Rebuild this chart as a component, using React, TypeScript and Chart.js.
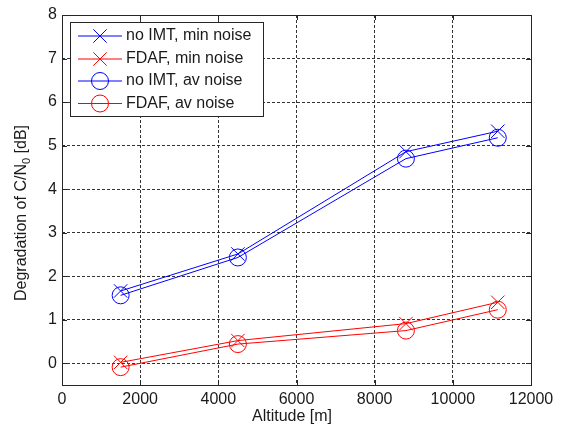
import React, { useEffect, useRef } from "react";
import { Chart, registerables } from "chart.js";

Chart.register(...registerables);

const altitudes = [1500, 4500, 8800, 11150];
const noImtMin = [1.66, 2.51, 4.86, 5.33];
const fdafMin = [0.02, 0.52, 0.91, 1.4];
const noImtAv = [1.56, 2.43, 4.7, 5.18];
const fdafAv = [-0.09, 0.44, 0.75, 1.23];

const seriesNames = ["no IMT, min noise", "FDAF, min noise", "no IMT, av noise", "FDAF, av noise"];
const xTicks = [0, 2000, 4000, 6000, 8000, 10000, 12000];
const yTicks = [0, 1, 2, 3, 4, 5, 6, 7, 8];
const xTitle = "Altitude [m]";
const yTitleMain = "Degradation of C/N";
const yTitleSub = "0";
const yTitleEnd = " [dB]";

const FONT = "'Liberation Sans', Arial, Helvetica, sans-serif";
const AXIS_COLOR = "#262626";
const TEXT_COLOR = "#1a1a1a";

const matlabPlugin = {
  id: "matlabDecor",
  afterDraw(chart: any) {
    const { ctx, chartArea } = chart;
    const { left, right, top, bottom } = chartArea;
    const xs = chart.scales.x;
    const ys = chart.scales.y;
    ctx.save();
    // frame
    ctx.strokeStyle = AXIS_COLOR;
    ctx.lineWidth = 1;
    ctx.setLineDash([]);
    ctx.strokeRect(Math.round(left) + 0.5, Math.round(top) + 0.5, Math.round(right - left), Math.round(bottom - top));
    // inward ticks
    const tl = 5;
    ctx.beginPath();
    xTicks.forEach((v) => {
      const px = Math.round(xs.getPixelForValue(v)) + 0.5;
      ctx.moveTo(px, bottom);
      ctx.lineTo(px, bottom - tl);
      ctx.moveTo(px, top);
      ctx.lineTo(px, top + tl);
    });
    yTicks.forEach((v) => {
      const py = Math.round(ys.getPixelForValue(v)) + 0.5;
      ctx.moveTo(left, py);
      ctx.lineTo(left + tl, py);
      ctx.moveTo(right, py);
      ctx.lineTo(right - tl, py);
    });
    ctx.stroke();

    // axis titles
    ctx.fillStyle = TEXT_COLOR;
    ctx.font = `16px ${FONT}`;
    ctx.textAlign = "center";
    ctx.textBaseline = "middle";
    ctx.fillText(xTitle, 292, 417);

    ctx.save();
    ctx.translate(22, 213);
    ctx.rotate(-Math.PI / 2);
    ctx.textAlign = "left";
    ctx.textBaseline = "middle";
    ctx.font = `16px ${FONT}`;
    const w1 = ctx.measureText(yTitleMain).width;
    const w3 = ctx.measureText(yTitleEnd).width;
    ctx.font = `11px ${FONT}`;
    const w2 = ctx.measureText(yTitleSub).width;
    const total = w1 + w2 + w3;
    let x0 = -total / 2;
    ctx.font = `16px ${FONT}`;
    ctx.fillText(yTitleMain, x0, 0);
    x0 += w1;
    ctx.font = `11px ${FONT}`;
    ctx.fillText(yTitleSub, x0, 5);
    x0 += w2;
    ctx.font = `16px ${FONT}`;
    ctx.fillText(yTitleEnd, x0, 0);
    ctx.restore();

    // legend
    const bx = 70.5, by = 22.5, bw = 193, bh = 94;
    ctx.fillStyle = "#ffffff";
    ctx.fillRect(bx, by, bw, bh);
    ctx.strokeStyle = AXIS_COLOR;
    ctx.strokeRect(bx, by, bw, bh);
    const rows = [36, 59, 81, 103.5];
    chart.data.datasets.forEach((ds: any, i: number) => {
      const y = rows[i];
      ctx.strokeStyle = ds.borderColor;
      ctx.lineWidth = 1;
      ctx.beginPath();
      ctx.moveTo(78, y);
      ctx.lineTo(122, y);
      ctx.stroke();
      const cx = 100;
      ctx.beginPath();
      if (ds.pointStyle === "circle") {
        ctx.arc(cx, y, ds.pointRadius, 0, Math.PI * 2);
      } else {
        const o = ds.pointRadius * Math.SQRT1_2;
        ctx.moveTo(cx - o, y - o);
        ctx.lineTo(cx + o, y + o);
        ctx.moveTo(cx - o, y + o);
        ctx.lineTo(cx + o, y - o);
      }
      ctx.stroke();
      ctx.fillStyle = TEXT_COLOR;
      ctx.font = `16px ${FONT}`;
      ctx.textAlign = "left";
      ctx.textBaseline = "middle";
      ctx.fillText(seriesNames[i], 126, y);
    });
    ctx.restore();
  },
};

function makeData(values: number[]) {
  return altitudes.map((a, i) => ({ x: a, y: values[i] }));
}

export default function App() {
  const canvasRef = useRef<HTMLCanvasElement | null>(null);
  useEffect(() => {
    if (!canvasRef.current) return;
    const mk = (label: string, values: number[], color: string, style: string, r: number) => ({
      label,
      data: makeData(values),
      borderColor: color,
      backgroundColor: "rgba(0,0,0,0)",
      borderWidth: 1,
      pointStyle: style,
      pointRadius: r,
      pointBorderWidth: 1,
      pointBorderColor: color,
      pointBackgroundColor: "rgba(0,0,0,0)",
      tension: 0,
      fill: false,
    });
    const chart = new Chart(canvasRef.current, {
      type: "line",
      data: {
        datasets: [
          mk(seriesNames[0], noImtMin, "#0000ff", "crossRot", 9.5),
          mk(seriesNames[1], fdafMin, "#ff0000", "crossRot", 9.5),
          mk(seriesNames[2], noImtAv, "#0000ff", "circle", 8.5),
          mk(seriesNames[3], fdafAv, "#ff0000", "circle", 8.5),
        ] as any,
      },
      options: {
        animation: false,
        responsive: false,
        maintainAspectRatio: false,
        layout: { padding: { top: 15, right: 36, left: 0, bottom: 0 } },
        plugins: { legend: { display: false }, tooltip: { enabled: false } },
        scales: {
          x: {
            type: "linear",
            min: 0,
            max: 12000,
            afterBuildTicks: (s: any) => {
              s.ticks = xTicks.map((v) => ({ value: v }));
            },
            afterFit: (s: any) => {
              s.height = 45;
            },
            ticks: {
              color: TEXT_COLOR,
              font: { family: FONT, size: 16 },
              padding: 5,
              maxRotation: 0,
              autoSkip: false,
              callback: (v: any) => String(v),
            },
            grid: { color: "#333333", drawTicks: false, lineWidth: 1 },
            border: { display: false, dash: [3, 2] },
          },
          y: {
            type: "linear",
            min: -0.5,
            max: 8,
            afterBuildTicks: (s: any) => {
              s.ticks = yTicks.map((v) => ({ value: v }));
            },
            afterFit: (s: any) => {
              s.width = 62;
            },
            ticks: {
              color: TEXT_COLOR,
              font: { family: FONT, size: 16 },
              padding: 5,
              autoSkip: false,
              callback: (v: any) => String(v),
            },
            grid: { color: "#333333", drawTicks: false, lineWidth: 1 },
            border: { display: false, dash: [3, 2] },
          },
        },
      },
      plugins: [matlabPlugin],
    });
    return () => chart.destroy();
  }, []);
  return (
    <div style={{ position: "absolute", left: 0, top: 0, width: 567, height: 430, background: "#fff" }}>
      <canvas ref={canvasRef} width={567} height={430} style={{ width: 567, height: 430 }} />
    </div>
  );
}
